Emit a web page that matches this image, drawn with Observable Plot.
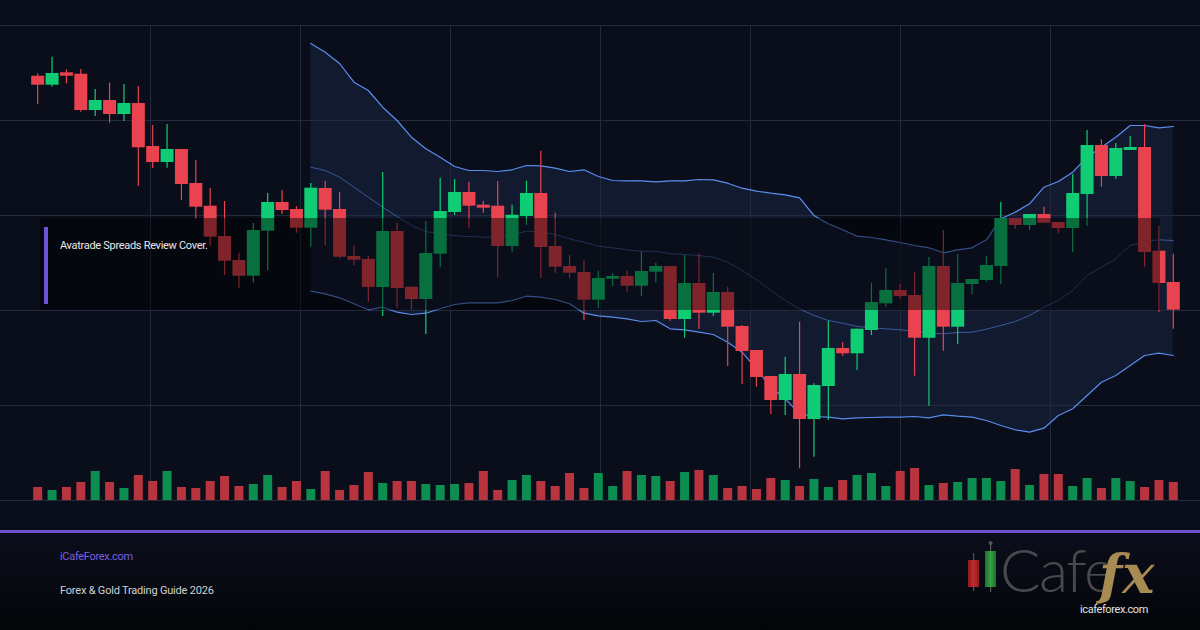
<!DOCTYPE html>
<html><head><meta charset="utf-8">
<script src="https://cdn.jsdelivr.net/npm/d3@7"></script>
<script src="https://cdn.jsdelivr.net/npm/@observablehq/plot@0.6"></script>
<style>
html,body{margin:0;padding:0;background:#0a0e1a;}
#wrap{position:relative;width:1200px;height:630px;overflow:hidden;font-family:Roboto,Inter,sans-serif;background:#0a0e1a;}
#chart{position:absolute;left:0;top:0;width:1200px;height:530px;}
#note{position:absolute;left:40px;top:218px;width:1120px;height:92px;background:rgba(0,0,0,0.45);}
#note .bar{position:absolute;left:4px;top:9px;width:4px;height:77px;background:#6d52d8;}
#note .txt{position:absolute;left:20px;top:21.5px;font-size:11px;line-height:11px;color:#e8e8ea;letter-spacing:-0.3px;white-space:nowrap;}
#foot{position:absolute;left:0;top:530px;}
</style></head>
<body>
<div id="wrap">
  <div id="chart"></div>
  <div id="note"><div class="bar"></div><div class="txt">Avatrade Spreads Review Cover.</div></div>
  <svg id="foot" width="1200" height="100" viewBox="0 0 1200 100">
    <defs>
      <linearGradient id="fg" x1="0" y1="0" x2="0" y2="1">
        <stop offset="0" stop-color="#0b0f1c"/><stop offset="1" stop-color="#040509"/>
      </linearGradient>
      <linearGradient id="rg" x1="0" y1="0" x2="1" y2="0">
        <stop offset="0" stop-color="#8e1a1f"/><stop offset="0.5" stop-color="#c42a30"/><stop offset="1" stop-color="#8e1a1f"/>
      </linearGradient>
      <linearGradient id="gg" x1="0" y1="0" x2="1" y2="0">
        <stop offset="0" stop-color="#1f6e2c"/><stop offset="0.5" stop-color="#35a145"/><stop offset="1" stop-color="#1f6e2c"/>
      </linearGradient>
    </defs>
    <rect x="0" y="0" width="1200" height="100" fill="url(#fg)"/>
    <rect x="0" y="0" width="1200" height="3" fill="#6c52d0"/>
    <text x="60" y="30" font-size="11" fill="#7a5ee0" letter-spacing="-0.3" font-family="Roboto,Inter,sans-serif">iCafeForex.com</text>
    <text x="60" y="64" font-size="11" fill="#d2d2d6" letter-spacing="-0.2" font-family="Roboto,Inter,sans-serif">Forex &amp; Gold Trading Guide 2026</text>
    <rect x="973" y="23" width="1.2" height="38" fill="#555"/>
    <rect x="968" y="30" width="11" height="27" fill="url(#rg)"/>
    <rect x="990" y="12" width="1.2" height="50" fill="#555"/>
    <circle cx="990.6" cy="13" r="2" fill="#555"/>
    <rect x="985" y="21" width="11" height="36" fill="url(#gg)"/>
    <text x="1000" y="62" font-size="60" font-weight="300" fill="#4a4a4c" letter-spacing="-1.5" font-family="Lato,'Open Sans',sans-serif">Cafe</text>
    <text x="1099" y="63" font-size="54" font-weight="bold" font-style="italic" fill="#a88b52" font-family="'DejaVu Serif','Liberation Serif',serif">fx</text>
    <text x="1080" y="83" font-size="11" fill="#e2e2e2" letter-spacing="-0.4" font-family="Roboto,Inter,sans-serif">icafeforex.com</text>
  </svg>
</div>
<script>
// ---- OHLC data (80 sessions) ----
const open  = [2324.3,2315.3,2327.7,2326.3,2290,2300,2286,2297,2254,2238,
               2251,2217,2194.3,2164,2140,2124.3,2169.3,2198,2191,2172.3,
               2212,2191,2144,2141,2113,2169,2113.3,2101,2146.3,2188,
               2208,2195.3,2194.3,2154,2184,2207,2154,2134,2128,2100.3,
               2121.3,2124,2114.3,2128.3,2134,2081,2117,2087.3,2108,2074,
               2050,2024,2000,2026,1981,2014,2052,2046.7,2070,2096.7,
               2110,2105,2062.3,2134,2073.3,2116,2120,2134,2182,2175,
               2186,2178,2172,2206,2255,2224,2250,2253,2149.3,2118];
const high  = [2326.7,2343.3,2330.7,2331,2311,2317.3,2316,2314,2275,2276,
               2251,2240,2212,2199,2147.3,2177,2207,2210,2194,2217,
               2219.3,2208,2154.3,2144,2228,2177.3,2113.3,2179,2222.3,2221,
               2218.3,2199.3,2219,2195.3,2219.3,2249.3,2187.3,2145,2140,2129.3,
               2126.7,2129.3,2148.7,2137.3,2134,2145,2146.7,2127,2113.3,2075,
               2050,2024,2043.3,2078.3,2016.7,2079,2058,2071.3,2117.3,2131.7,
               2116,2127.7,2143,2170,2146,2121,2144,2198,2182,2186,
               2193.3,2178,2226,2270,2260.7,2257,2264,2276,2174.3,2146.3];
const low   = [2295.7,2313.3,2316.7,2288.3,2284,2277.3,2279,2214,2232,2232.3,
               2200,2181.3,2154.3,2125,2112.3,2117.3,2130,2186,2167.3,2153.3,
               2155,2141.7,2134.7,2098.3,2084,2092.3,2090,2066,2132.7,2185,
               2171.7,2187.3,2122.7,2148,2175,2122,2127.3,2122,2080,2092,
               2114,2108.3,2104,2117.3,2079.3,2062.3,2071.3,2084,2034,2016,
               2013.3,1986,1985,1931.7,1943.3,1980,2044,2030,2065,2093.3,
               2100.7,2024.3,1994.3,2049.3,2056,2106,2118.3,2116,2171,2170,
               2177.3,2167,2147.7,2174.3,2213.3,2221.3,2250,2133,2088.3,2071.3];
const close = [2315.3,2327,2324.3,2290,2300,2286,2297,2252.7,2238,2251,
               2216,2193.3,2163.3,2139.3,2124.3,2170,2198,2190,2172.3,2212.3,
               2190.3,2143.3,2140.3,2113,2169,2112,2101,2147,2189,2208,
               2194.3,2192.3,2154,2185.3,2207,2153,2133.3,2127.3,2100.3,2122,
               2124,2114.3,2129,2134,2081,2117,2087.3,2108,2073.3,2049,
               2023,2000,2026,1981,2015,2052,2046.7,2071.3,2098,2110,
               2104,2062.3,2134,2073.3,2117,2121,2135,2182,2175,2186,
               2177.3,2172,2207,2255,2224,2252,2253,2148,2117,2090.3];
const volume = [1300,1000,1300,1800,2900,1800,1200,2500,1900,2900,
                1300,1200,1900,2400,1400,1600,2500,1300,1900,1100,
                2900,1000,1500,2800,1700,1900,1900,1600,1500,1600,
                1700,2900,1000,2000,2500,1900,1400,2700,1200,2700,
                1400,2900,2500,2400,1900,2800,3000,2500,1200,1400,
                1100,2200,2000,1400,2100,1300,2000,2500,2700,1400,
                2900,3200,1500,1700,1800,2200,2200,1900,3100,1500,
                2600,2600,1400,2200,1200,2200,1900,1300,2000,1800];

// ---- Bollinger bands (from session 19 on) ----
const bandStart = 19;
const bandUpper = [2357,2348.3,2337,2318.3,2310,2293.3,2280,2263.3,2251.7,2243.3,
                   2234,2230,2230,2229,2230.7,2235,2234.7,2232.3,2229,2230.7,
                   2224,2220,2219.7,2219.7,2218.7,2219.7,2219.7,2221,2220.7,2217.3,
                   2212.3,2209.3,2207.3,2205.7,2202.7,2185,2176.7,2170.7,2164.3,2163,
                   2160.7,2158,2155,2152.7,2147.7,2150.7,2152.7,2160.7,2181.7,2188.3,
                   2196.7,2213.3,2219,2228.3,2243.3,2253.3,2263.3,2275,2275,2272.7,2274];
const bandMid   = [2233.3,2230,2223.3,2213.3,2203.3,2193.3,2184,2175,2169,2166.7,
                   2165,2164,2163.3,2163.3,2165.7,2169.3,2168.7,2166,2161.7,2158.3,
                   2154.3,2152.7,2150.7,2149.3,2149.3,2146.7,2146,2145,2143.3,2138.3,
                   2130,2120.7,2110,2100,2091.7,2085,2080,2077.3,2074,2072.7,
                   2071.7,2070.7,2069.3,2067.3,2066.7,2068,2068.3,2071.3,2075,2079,
                   2085,2093.3,2100,2110,2125,2133.3,2141.7,2155,2159,2160.7,2160];
const bandLower = [2109.3,2106.7,2102.7,2096.7,2090.7,2093.3,2088.3,2086,2087.3,2091.7,
                   2096,2097.7,2097.7,2097.7,2100,2104.3,2103.3,2101,2096.7,2087.3,
                   2084.7,2083.3,2081.7,2079,2080,2071.7,2070.7,2068.3,2066,2058.3,
                   2048.3,2031.7,2013.3,2001.7,1986.7,1984,1983.3,1981.7,1982.7,1983,
                   1983.3,1983.3,1984,1982.7,1985.7,1984.3,1983.3,1980,1975,1970.7,
                   1968.3,1972.3,1985,1991.7,2005,2018.3,2025,2035,2045,2047.3,2045];

// ---- grid levels ----
const gridPrices = [1900, 1995, 2090, 2185, 2280, 2375];

// build tables
const candles = open.map((o, i) => ({i, open: o, high: high[i], low: low[i], close: close[i], vol: volume[i], up: close[i] >= o}));
const bands = bandUpper.map((u, k) => ({i: bandStart + k, upper: u, mid: bandMid[k], lower: bandLower[k]}));

const xDomain = [-2.587, 80.891];
const gridX = d3.range(1, 8).map(j => xDomain[0] + (xDomain[1] - xDomain[0]) * j / 8);
const volBase = gridPrices[0];
const volScale = 0.01; // price-axis units per lot for the volume strip

const GREEN = "#10cc74", RED = "#e8434f";
const VGREEN = "#0b8e4f", VRED = "#b8343e";

const chart = Plot.plot({
  width: 1200, height: 530,
  marginTop: 0, marginRight: 0, marginBottom: 0, marginLeft: 0,
  style: {background: "transparent", overflow: "visible"},
  x: {type: "linear", domain: xDomain, axis: null},
  y: {domain: [1870, 2400], axis: null},
  marks: [
    Plot.areaY(bands, {x: "i", y1: "lower", y2: "upper", fill: "#121a30", curve: "linear"}),
    Plot.ruleY(gridPrices, {stroke: "#222a3c", strokeWidth: 1}),
    Plot.ruleX(gridX, {y1: gridPrices[0], y2: gridPrices[gridPrices.length - 1], stroke: "#222a3c", strokeWidth: 1}),
    Plot.lineY(bands, {x: "i", y: "mid", stroke: "#5b8def", strokeOpacity: 0.55, strokeWidth: 1}),
    Plot.lineY(bands, {x: "i", y: "upper", stroke: "#5b8def", strokeWidth: 1.2}),
    Plot.lineY(bands, {x: "i", y: "lower", stroke: "#5b8def", strokeWidth: 1.2}),
    Plot.ruleX(candles, {x: "i", y1: volBase, y2: d => volBase + d.vol * volScale, stroke: d => d.up ? VGREEN : VRED, strokeWidth: 9}),
    Plot.ruleX(candles, {x: "i", y1: "low", y2: "high", stroke: d => d.up ? GREEN : RED, strokeWidth: 1.2}),
    Plot.ruleX(candles, {x: "i", y1: "open", y2: "close", stroke: d => d.up ? GREEN : RED, strokeWidth: 13})
  ]
});
document.getElementById("chart").appendChild(chart);
</script>
</body></html>
